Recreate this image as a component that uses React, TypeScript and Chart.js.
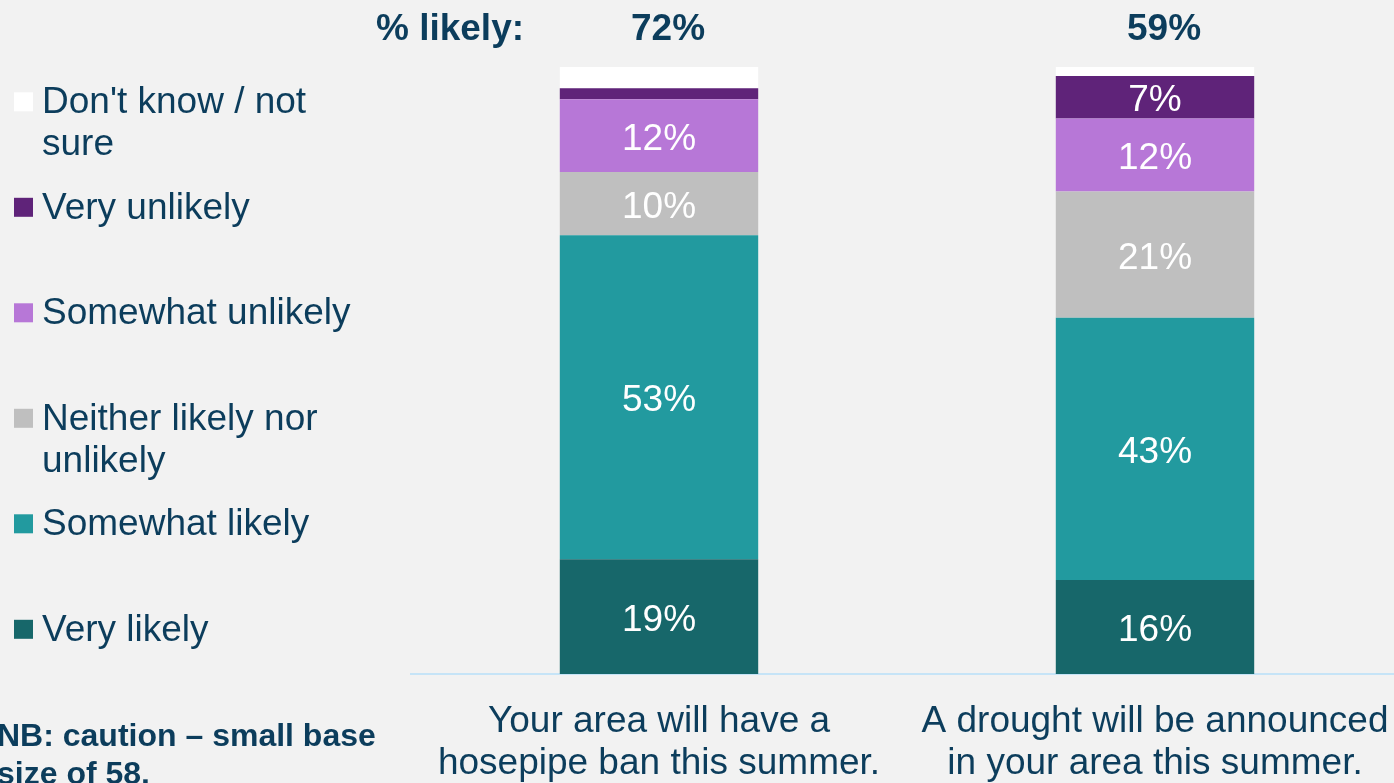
import { useEffect, useRef } from "react";
import { Chart, registerables } from "chart.js";

Chart.register(...registerables);

// ---------- data ----------
const categories: string[][] = [
  ["Your area will have a", "hosepipe ban this summer."],
  ["A drought will be announced", "in your area this summer."],
];
const seriesNames = [
  "Very likely",
  "Somewhat likely",
  "Neither likely nor unlikely",
  "Somewhat unlikely",
  "Very unlikely",
  "Don't know / not sure",
];
const veryLikely = [18.9, 15.5];
const somewhatLikely = [53.4, 43.2];
const neitherLikely = [10.4, 20.8];
const somewhatUnlikely = [12.0, 12.0];
const veryUnlikely = [1.8, 7.0];
const dontKnow = [3.5, 1.5];
const seriesColors = ["#17676a", "#229a9f", "#bfbfbf", "#b777d7", "#5f2379", "#ffffff"];
const likelyHeader = "% likely:";
const noteLines = ["NB: caution – small base", "size of 58."];

const FONT = '"Liberation Sans", Arial, Helvetica, sans-serif';
const TEXT = "#0c3d5c";

function wrap(ctx: CanvasRenderingContext2D, text: string, maxW: number): string[] {
  const words = text.split(" ");
  const lines: string[] = [];
  let cur = "";
  for (const w of words) {
    const t = cur ? cur + " " + w : w;
    if (cur && ctx.measureText(t).width > maxW) {
      lines.push(cur);
      cur = w;
    } else cur = t;
  }
  if (cur) lines.push(cur);
  return lines;
}

export default function App() {
  const ref = useRef<HTMLCanvasElement>(null);

  useEffect(() => {
    const canvas = ref.current!;
    const allSeries = [veryLikely, somewhatLikely, neitherLikely, somewhatUnlikely, veryUnlikely, dontKnow];

    const overlay = {
      id: "overlay",
      afterDatasetsDraw(chart: any) {
        const ctx: CanvasRenderingContext2D = chart.ctx;
        ctx.save();
        ctx.font = `37px ${FONT}`;
        ctx.fillStyle = "#ffffff";
        ctx.textAlign = "center";
        ctx.textBaseline = "alphabetic";
        chart.data.datasets.forEach((ds: any, di: number) => {
          if (di === 5) return;
          const meta = chart.getDatasetMeta(di);
          meta.data.forEach((bar: any, i: number) => {
            const v = ds.data[i];
            if (v < 5) return;
            const cy = (bar.y + bar.base) / 2;
            ctx.fillText(Math.round(v) + "%", bar.x, cy + 14);
          });
        });
        ctx.restore();
      },
      afterDraw(chart: any) {
        const ctx: CanvasRenderingContext2D = chart.ctx;
        const xs = chart.scales.x;
        ctx.save();
        ctx.fillStyle = TEXT;
        ctx.textBaseline = "alphabetic";

        // header row
        ctx.font = `bold 37px ${FONT}`;
        ctx.textAlign = "center";
        ctx.fillText(likelyHeader, 450, 39.5);
        categories.forEach((_, i) => {
          const pct = Math.round(veryLikely[i] + somewhatLikely[i]);
          ctx.fillText(pct + "%", xs.getPixelForValue(i) + 9, 39.5);
        });

        // category labels
        ctx.font = `37px ${FONT}`;
        categories.forEach((lines, i) => {
          const x = xs.getPixelForValue(i);
          lines.forEach((ln, k) => ctx.fillText(ln, x, 731.5 + k * 42.5));
        });

        // legend
        ctx.textAlign = "left";
        const order = [5, 4, 3, 2, 1, 0];
        order.forEach((di, k) => {
          const base = 113.3 + k * 105.5;
          ctx.fillStyle = seriesColors[di];
          ctx.fillRect(14, base - 21, 19, 19);
          ctx.fillStyle = TEXT;
          const lines = wrap(ctx, seriesNames[di], 330);
          lines.forEach((ln, j) => ctx.fillText(ln, 42, base + j * 42));
        });

        // note
        ctx.font = `bold 32px ${FONT}`;
        noteLines.forEach((ln, j) => ctx.fillText(ln, -3, 746 + j * 38));
        ctx.restore();
      },
    };

    const chart = new Chart(canvas, {
      type: "bar",
      data: {
        labels: categories,
        datasets: seriesNames.map((name, i) => ({
          label: name,
          data: allSeries[i],
          backgroundColor: seriesColors[i],
          borderWidth: 0,
          barPercentage: 0.4,
          categoryPercentage: 1,
        })),
      },
      options: {
        responsive: false,
        animation: false,
        devicePixelRatio: 1,
        layout: { padding: { left: 411, right: 7, top: 67, bottom: 101 } },
        plugins: { legend: { display: false }, tooltip: { enabled: false } },
        scales: {
          x: {
            stacked: true,
            grid: { display: false },
            ticks: { display: false },
            border: { display: true, color: "#c6e4f7", width: 2 },
          },
          y: { stacked: true, display: false, min: 0, max: 100 },
        },
      },
      plugins: [overlay],
    });
    return () => chart.destroy();
  }, []);

  return (
    <div
      style={{
        position: "fixed",
        left: 0,
        top: 0,
        width: 1394,
        height: 783,
        overflow: "hidden",
        background: "#f2f2f2",
      }}
    >
      <canvas ref={ref} width={1410} height={783} style={{ display: "block" }} />
    </div>
  );
}
